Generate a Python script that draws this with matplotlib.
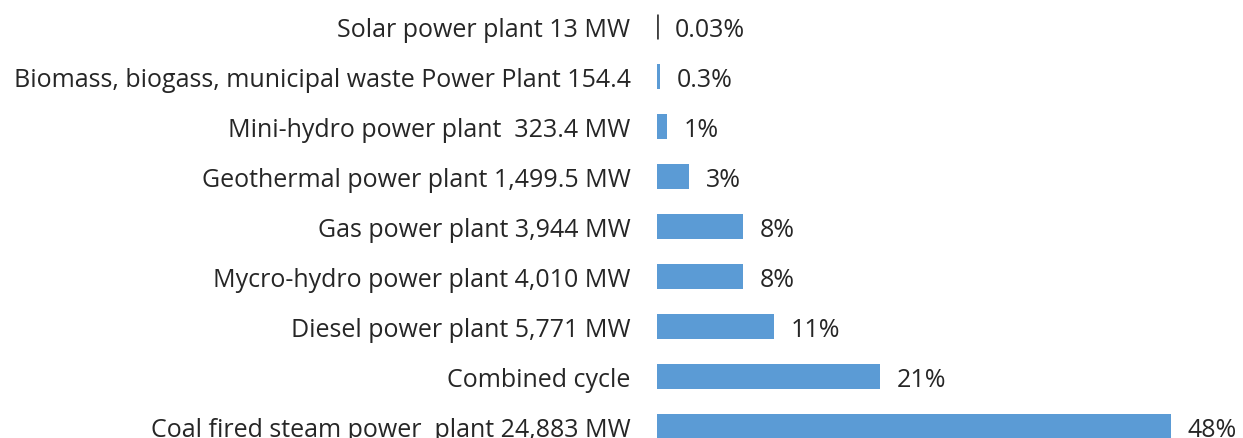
import matplotlib.pyplot as plt
import matplotlib

matplotlib.rcParams['font.family'] = ['Open Sans', 'DejaVu Sans']

labels = ['Solar power plant 13 MW',
          'Biomass, biogass, municipal waste Power Plant 154.4',
          'Mini-hydro power plant  323.4 MW',
          'Geothermal power plant 1,499.5 MW',
          'Gas power plant 3,944 MW',
          'Mycro-hydro power plant 4,010 MW',
          'Diesel power plant 5,771 MW',
          'Combined cycle',
          'Coal fired steam power  plant 24,883 MW']
shares = [0.03, 0.3, 0.93, 3.0, 8.0, 8.0, 10.9, 20.8, 48.0]
share_text = ['0.03%', '0.3%', '1%', '3%', '8%', '8%', '11%', '21%', '48%']

W, H = 1243, 439
fig = plt.figure(figsize=(W / 100, H / 100), dpi=100)
# plot area: x=0 at pixel 657, rows 50 px apart, first row centre at 27.5 px
ax = fig.add_axes([657 / W, 0, 1 - 657 / W, 1])
px_per_pct = 10.7
ax.set_xlim(0, (W - 657) / px_per_pct)
ax.set_ylim(8 + (H - 427.5) / 50, -27.5 / 50)

ys = list(range(len(labels)))
bars = ax.barh(ys, shares, height=0.5, color='#5B9BD5')
# the tiny solar bar shows up as a thin dark outline
bars[0].set_edgecolor('#404040')
bars[0].set_linewidth(2)

ax.set_yticks(ys)
ax.set_yticklabels(labels, fontsize=18, color='#262626')
ax.tick_params(axis='y', length=0, pad=19)
ax.set_xticks([])
for s in ax.spines.values():
    s.set_visible(False)

for y, v, t in zip(ys, shares, share_text):
    ax.annotate(t, (v, y), xytext=(17, 0), textcoords='offset pixels',
                va='center_baseline', ha='left', fontsize=18, color='#262626')

fig.savefig('out.png', dpi=100)
